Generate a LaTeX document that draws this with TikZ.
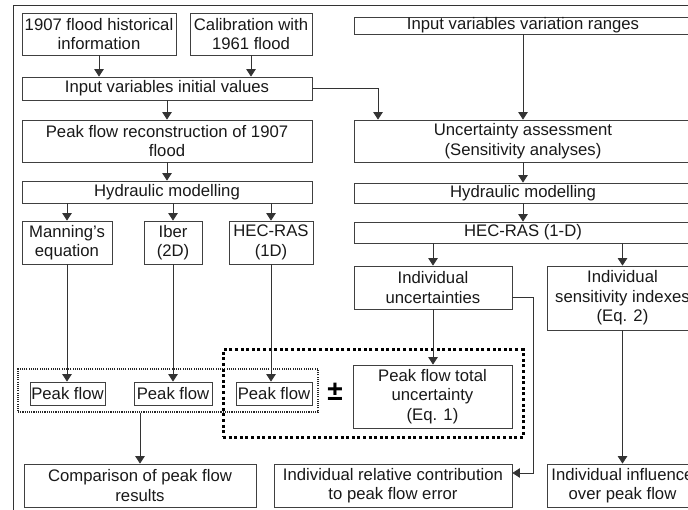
\documentclass[tikz,border=0pt]{standalone}
\usepackage{fontspec}
\setmainfont{Liberation Sans}
\usetikzlibrary{arrows.meta,calc}
\begin{document}
\begin{tikzpicture}[x=1pt,y=-1pt,
  box/.style={draw=black!75,line width=0.8pt,inner sep=0pt,align=center,
    font=\fontsize{16.7}{19.5}\selectfont,text=black!90},
  arr/.style={draw=black!80,line width=0.8pt,-{Triangle[length=7.5pt,width=9.5pt]}},
  ln/.style={draw=black!80,line width=0.8pt},
  thindot/.style={draw=black!85,line width=1.1pt,dash pattern=on 1.1pt off 1.1pt,inner sep=0pt},
  thickdot/.style={draw=black,line width=3pt,dash pattern=on 3pt off 2.6pt,inner sep=0pt}]
\useasboundingbox (0,0) rectangle (688,510);
\clip (0,0) rectangle (688,510);
\fill[white] (0,0) rectangle (688,510);
% outer frame
\draw[line width=0.9pt,black!80] (13,520) -- (13,5) -- (700,5);

% left column
\node[box,minimum width=154,minimum height=42] (h1907) at (99,34) {1907 flood historical\\information};
\node[box,minimum width=122,minimum height=42] (cal) at (251,34) {Calibration with\\1961 flood};
\node[box,minimum width=290,minimum height=23] (init) at (167,88.5) {Input variables initial values};
\node[box,minimum width=290,minimum height=42] (peakrec) at (167,141) {Peak flow reconstruction of 1907\\flood};
\node[box,minimum width=290,minimum height=22] (hydL) at (167,192) {Hydraulic modelling};
\node[box,minimum width=90,minimum height=43] (manning) at (67,242.5) {Manning’s\\equation};
\node[box,minimum width=58,minimum height=43] (iber) at (173,242.5) {Iber\\(2D)};
\node[box,minimum width=84,minimum height=43] (hecL) at (271,242.5) {HEC-RAS\\(1D)};

\node[thindot,minimum width=300,minimum height=43] (grp) at (168,390.5) {};
\node[thickdot,minimum width=300,minimum height=87] (tgrp) at (373,393.5) {};

\node[box,minimum width=75,minimum height=23] (pf1) at (67.5,393.5) {Peak flow};
\node[box,minimum width=78,minimum height=23] (pf2) at (173,393.5) {Peak flow};
\node[box,minimum width=76,minimum height=23] (pf3) at (274,393.5) {Peak flow};
\node[font=\fontsize{28}{28}\selectfont\bfseries,inner sep=0pt] (pm) at (335,392) {±};

\node[box,minimum width=232,minimum height=43] (comp) at (140,485.5) {Comparison of peak flow\\results};

% right column
\node[box,minimum width=338,minimum height=17] (ranges) at (523,25.5) {Input variables variation ranges};
\node[box,minimum width=338,minimum height=42] (uncert) at (523,141) {Uncertainty assessment\\(Sensitivity analyses)};
\node[box,minimum width=338,minimum height=20] (hydR) at (523,193) {Hydraulic modelling};
\node[box,minimum width=338,minimum height=21] (hecR) at (523,232.5) {HEC-RAS (1-D)};
\node[box,minimum width=158,minimum height=43] (indunc) at (433,287.5) {Individual\\uncertainties};
\node[box,minimum width=151,minimum height=64] (indsens) at (622.5,298) {Individual\\sensitivity indexes\\(Eq. 2)};
\node[box,minimum width=159,minimum height=63] (total) at (432.5,396.5) {Peak flow total\\uncertainty\\(Eq. 1)};
\node[box,minimum width=238,minimum height=43] (relcon) at (393,485.5) {Individual relative contribution\\to peak flow error};
\node[box,minimum width=151,minimum height=43] (influence) at (622.5,485.5) {Individual influence\\over peak flow};

\coordinate (bendA) at (378,88.5);
\coordinate (bendB) at (533,297);
\coordinate (bendC) at (533,473);

% connectors
\draw[arr] (h1907) -- (h1907 |- init.north);
\draw[arr] (cal) -- (cal |- init.north);
\draw[arr] (init.east) -- (bendA) -- (bendA |- uncert.north);
\draw[arr] (ranges) -- (uncert);
\draw[arr] (init) -- (peakrec);
\draw[arr] (peakrec) -- (hydL);
\draw[arr] (manning |- hydL.south) -- (manning);
\draw[arr] (iber |- hydL.south) -- (iber);
\draw[arr] (hecL |- hydL.south) -- (hecL);
\draw[arr] (manning) -- (manning |- pf1.north);
\draw[arr] (iber) -- (iber |- pf2.north);
\draw[arr] (hecL) -- (hecL |- pf3.north);
\draw[arr] (comp |- grp.south) -- (comp);
\draw[arr] (uncert) -- (hydR);
\draw[arr] (hydR) -- (hecR);
\draw[arr] (indunc |- hecR.south) -- (indunc);
\draw[arr] (indsens |- hecR.south) -- (indsens);
\draw[arr] (indunc) -- (indunc |- total.north);
\draw[arr] (indunc.east |- bendB) -- (bendB) -- (bendC) -- (relcon.east |- bendC);
\draw[arr] (indsens) -- (influence);
\end{tikzpicture}
\end{document}
